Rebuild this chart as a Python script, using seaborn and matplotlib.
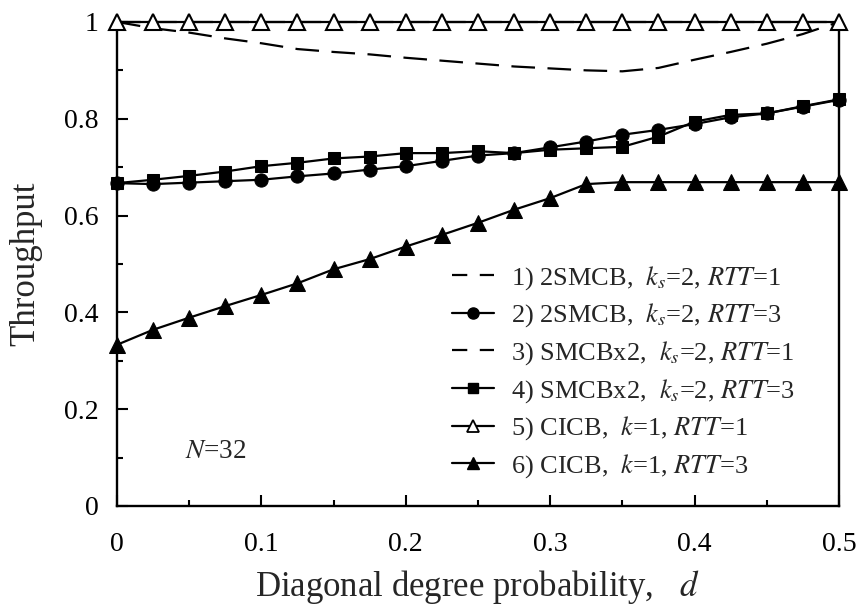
import matplotlib
matplotlib.use("Agg")
import matplotlib.pyplot as plt
import seaborn as sns
import pandas as pd
from matplotlib.lines import Line2D
from matplotlib.ticker import MultipleLocator

# ---------------- data ----------------
d = [0.0, 0.025, 0.05, 0.075, 0.1, 0.125, 0.15, 0.175, 0.2, 0.225, 0.25,
     0.275, 0.3, 0.325, 0.35, 0.375, 0.4, 0.425, 0.45, 0.475, 0.5]

smcb2_rtt1 = [1.0, 0.987, 0.978, 0.966, 0.956, 0.944, 0.938, 0.933, 0.926, 0.920, 0.914,
              0.908, 0.904, 0.900, 0.898, 0.905, 0.922, 0.938, 0.955, 0.975, 1.0]
smcb2_rtt3 = [0.667, 0.665, 0.668, 0.671, 0.674, 0.681, 0.687, 0.695, 0.702, 0.713, 0.724,
              0.729, 0.741, 0.753, 0.767, 0.777, 0.789, 0.803, 0.811, 0.825, 0.839]
smcbx2_rtt1 = [1.0, 1.0, 1.0, 1.0, 1.0, 1.0, 1.0, 1.0, 1.0, 1.0, 1.0,
               1.0, 1.0, 1.0, 1.0, 1.0, 1.0, 1.0, 1.0, 1.0, 1.0]
smcbx2_rtt3 = [0.667, 0.674, 0.682, 0.691, 0.702, 0.709, 0.718, 0.722, 0.729, 0.729, 0.733,
               0.729, 0.736, 0.739, 0.742, 0.763, 0.794, 0.808, 0.811, 0.826, 0.840]
cicb_rtt1 = [1.0, 1.0, 1.0, 1.0, 1.0, 1.0, 1.0, 1.0, 1.0, 1.0, 1.0,
             1.0, 1.0, 1.0, 1.0, 1.0, 1.0, 1.0, 1.0, 1.0, 1.0]
cicb_rtt3 = [0.333, 0.364, 0.389, 0.413, 0.436, 0.460, 0.489, 0.510, 0.536, 0.560, 0.585,
             0.612, 0.636, 0.665, 0.669, 0.669, 0.669, 0.669, 0.669, 0.669, 0.669]

labels = [
    r"1) 2SMCB,  $k_s$=2, $RTT$=1",
    r"2) 2SMCB,  $k_s$=2, $RTT$=3",
    r"3) SMCBx2,  $k_s$=2, $RTT$=1",
    r"4) SMCBx2,  $k_s$=2, $RTT$=3",
    r"5) CICB,  $k$=1, $RTT$=1",
    r"6) CICB,  $k$=1, $RTT$=3",
]
x_ticks = [0, 0.1, 0.2, 0.3, 0.4, 0.5]
x_tick_labels = ["0", "0.1", "0.2", "0.3", "0.4", "0.5"]
y_ticks = [0, 0.2, 0.4, 0.6, 0.8, 1.0]
y_tick_labels = ["0", "0.2", "0.4", "0.6", "0.8", "1"]

# ---------------- style ----------------
sns.set_style("ticks")
plt.rcParams["font.family"] = ["Liberation Serif", "DejaVu Serif"]
plt.rcParams["mathtext.fontset"] = "stix"
plt.rcParams["lines.scale_dashes"] = False

fig = plt.figure(figsize=(8.6, 6.08), dpi=100)
ax = fig.add_axes([0.1360, 0.1678, 0.8395, 0.7961])

dash_plot = (0, (17, 9))
series = [
    (smcb2_rtt1, dict(linestyle=dash_plot, marker=None, lw=1.6, zorder=2)),
    (smcbx2_rtt1, dict(linestyle=dash_plot, marker=None, lw=1.6, zorder=2)),
    (smcb2_rtt3, dict(linestyle="-", marker="o", markersize=9.5, lw=1.6, zorder=3,
                      markerfacecolor="black", markeredgecolor="black")),
    (smcbx2_rtt3, dict(linestyle="-", marker="s", markersize=9, lw=1.6, zorder=3,
                       markerfacecolor="black", markeredgecolor="black")),
    (cicb_rtt3, dict(linestyle="-", marker="^", markersize=11, lw=1.6, zorder=3,
                     markerfacecolor="black", markeredgecolor="black")),
    (cicb_rtt1, dict(linestyle="-", marker="^", markersize=11, lw=1.6, zorder=4,
                     markerfacecolor="white", markeredgecolor="black", markeredgewidth=1.5)),
]
for vals, kw in series:
    df = pd.DataFrame({"d": d, "t": vals})
    sns.lineplot(data=df, x="d", y="t", ax=ax, color="black", estimator=None,
                 clip_on=False, **kw)

ax.set_xlim(0, 0.5)
ax.set_ylim(0, 1)
ax.set_xticks(x_ticks)
ax.set_xticklabels(x_tick_labels)
ax.set_yticks(y_ticks)
ax.set_yticklabels(y_tick_labels)
ax.xaxis.set_minor_locator(MultipleLocator(0.05))
ax.yaxis.set_minor_locator(MultipleLocator(0.1))
ax.tick_params(which="both", direction="in", colors="black", width=1.5)
ax.tick_params(which="major", length=8, labelsize=20)
ax.tick_params(which="minor", length=4)
ax.tick_params(axis="x", which="major", pad=19)
ax.tick_params(axis="y", which="major", pad=13)
for side in ["left", "bottom", "right"]:
    ax.spines[side].set_linewidth(1.7)
    ax.spines[side].set_color("black")
ax.spines["top"].set_visible(False)

ax.set_xlabel(r"Diagonal degree probability,   $d$", fontsize=25, labelpad=8)
ax.set_ylabel("Throughput", fontsize=25, labelpad=16)

ax.text(0.047, 0.112, r"$N$=32", fontsize=19.5, ha="left", va="center", transform=ax.transData)

dash_leg = (0, (11, 9))
handles = [
    Line2D([], [], color="black", lw=1.6, linestyle=dash_leg),
    Line2D([], [], color="black", lw=1.6, marker="o", markersize=8),
    Line2D([], [], color="black", lw=1.6, linestyle=dash_leg),
    Line2D([], [], color="black", lw=1.6, marker="s", markersize=7.5),
    Line2D([], [], color="black", lw=1.6, marker="^", markersize=9,
           markerfacecolor="white", markeredgewidth=1.3),
    Line2D([], [], color="black", lw=1.6, marker="^", markersize=9),
]
fig.legend(handles, labels, loc="upper left", bbox_to_anchor=(452 / 860, 1 - 264 / 608),
           frameon=False, fontsize=19, handlelength=1.6, handletextpad=0.65,
           labelspacing=0.37, borderpad=0, borderaxespad=0)

fig.savefig("out.png", dpi=100)
